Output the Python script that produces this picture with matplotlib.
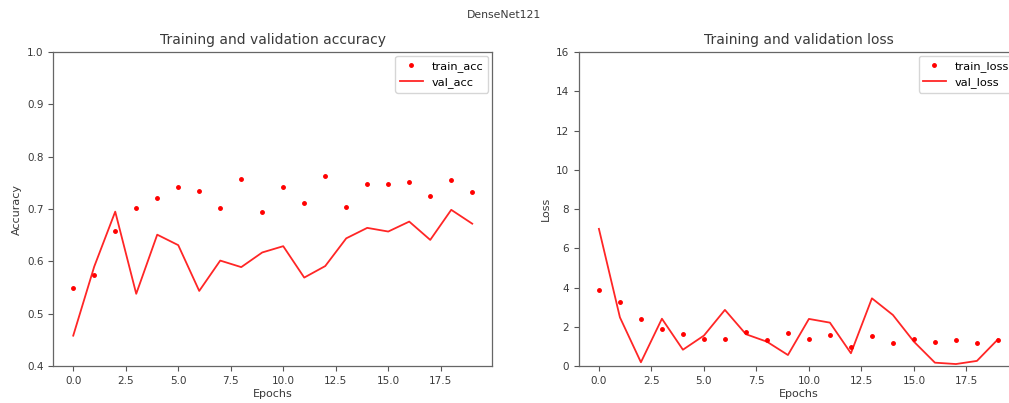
import matplotlib
matplotlib.use("Agg")
import matplotlib.pyplot as plt
import numpy as np

epochs = list(range(20))
train_acc = [0.550, 0.5735, 0.658, 0.702, 0.722, 0.742, 0.735, 0.702, 0.757, 0.695,
             0.742, 0.711, 0.7635, 0.704, 0.748, 0.748, 0.751, 0.724, 0.755, 0.733]
val_acc = [0.458, 0.590, 0.695, 0.538, 0.651, 0.631, 0.5435, 0.6015, 0.589, 0.617,
           0.629, 0.569, 0.591, 0.644, 0.664, 0.657, 0.676, 0.641, 0.6985, 0.672]
train_loss = [3.86, 3.28, 2.38, 1.87, 1.63, 1.39, 1.39, 1.73, 1.33, 1.68,
              1.39, 1.58, 0.99, 1.51, 1.16, 1.38, 1.22, 1.33, 1.16, 1.33]
val_loss = [6.99, 2.48, 0.19, 2.41, 0.83, 1.55, 2.86, 1.62, 1.24, 0.56,
            2.40, 2.21, 0.65, 3.45, 2.60, 1.24, 0.17, 0.10, 0.26, 1.36]

plt.rcParams['font.size'] = 8
plt.rcParams['font.family'] = ['DejaVu Sans']

fig = plt.figure(figsize=(10.09, 4.03), dpi=100)
ax1 = fig.add_axes([0.0528, 0.0918, 0.435, 0.779])
ax2 = fig.add_axes([0.5738, 0.0918, 0.435, 0.779])

tc = '#3a3a3a'
for ax in (ax1, ax2):
    ax.tick_params(direction='out', length=3.5, width=0.8, colors='#555555',
                   labelcolor=tc, labelsize=7.5)
    for s in ax.spines.values():
        s.set_color('#666666')
        s.set_linewidth(0.9)

ax1.plot(epochs, train_acc, 'r.', label='train_acc', markersize=5)
ax1.plot(epochs, val_acc, 'r', label='val_acc', linewidth=1.3, alpha=0.85)
ax1.set_ylim(0.4, 1.0)
ax1.set_xlim(-0.95, 19.95)
ax1.set_xticks(np.arange(0, 20, 2.5))
ax1.set_title('Training and validation accuracy', fontsize=10, color=tc)
ax1.set_xlabel('Epochs', color=tc, labelpad=2)
ax1.set_ylabel('Accuracy', color=tc)
ax1.legend(loc='upper right', fontsize=8.2, borderaxespad=0.35)

ax2.plot(epochs, train_loss, 'r.', label='train_loss', markersize=5)
ax2.plot(epochs, val_loss, 'r', label='val_loss', linewidth=1.3, alpha=0.85)
ax2.set_ylim(0, 16)
ax2.set_xlim(-0.95, 19.95)
ax2.set_xticks(np.arange(0, 20, 2.5))
ax2.set_title('Training and validation loss', fontsize=10, color=tc)
ax2.set_xlabel('Epochs', color=tc, labelpad=2)
ax2.set_ylabel('Loss', color=tc)
ax2.legend(loc='upper right', fontsize=8.2, borderaxespad=0.35)

fig.suptitle('DenseNet121', fontsize=7.8, color=tc, y=0.975)
fig.savefig('out.png', dpi=100)
